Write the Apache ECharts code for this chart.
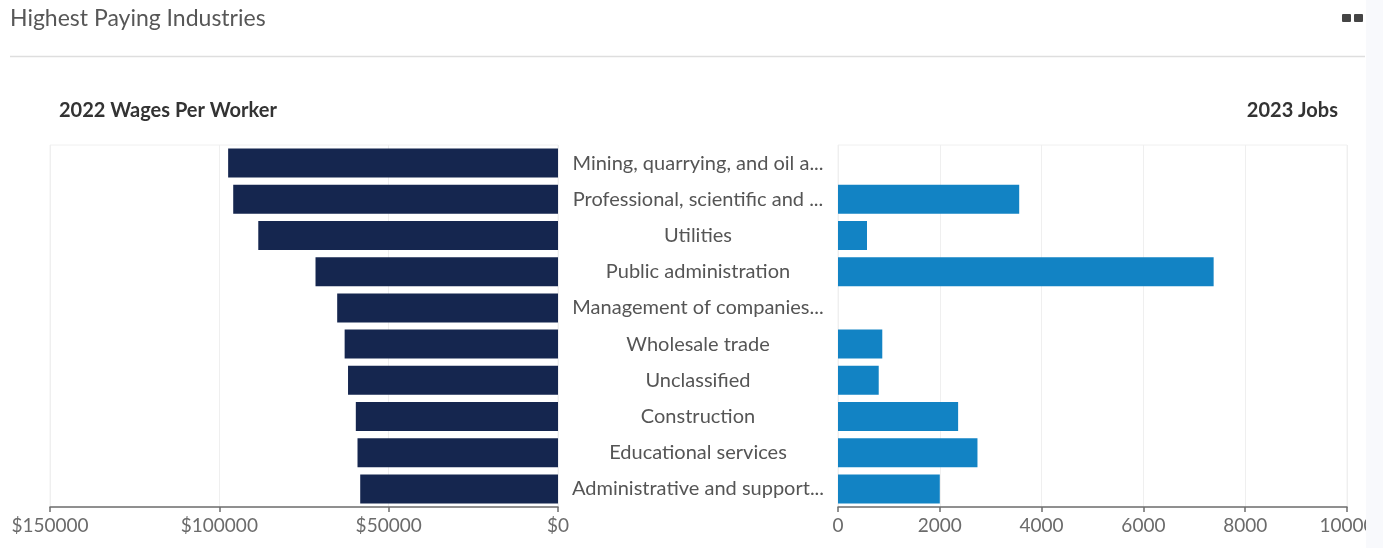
<!DOCTYPE html>
<html>
<head>
<meta charset="utf-8">
<script src="https://cdn.jsdelivr.net/npm/echarts@6/dist/echarts.min.js"></script>
<style>
  html, body { margin: 0; padding: 0; background: #ffffff; }
  #chart { width: 1383px; height: 548px; }
</style>
</head>
<body>
<div id="chart"></div>
<script>
// Industry labels as shown next to the bars
const industries = [
  'Mining, quarrying, and oil a...',
  'Professional, scientific and ...',
  'Utilities',
  'Public administration',
  'Management of companies...',
  'Wholesale trade',
  'Unclassified',
  'Construction',
  'Educational services',
  'Administrative and support...'
];

// 2022 average wages per worker (USD)
const wages2022 = [97400, 95900, 88500, 71600, 65200, 63000, 62000, 59700, 59200, 58400];

// 2023 job counts (no value for two industries)
const jobs2023 = [null, 3560, 570, 7380, null, 870, 800, 2360, 2740, 2000];

// Axis ranges and tick steps
const wageAxis = { min: 0, max: 150000, step: 50000 };
const jobsAxis = { min: 0, max: 10000, step: 2000 };

const FONT = 'Lato, "Open Sans", sans-serif';
const chart = echarts.init(document.getElementById('chart'), null, { renderer: 'canvas' });

const axisLineStyle = { show: true, lineStyle: { color: '#6e6e6e', width: 1.5 } };
const axisTickStyle = { show: true, length: 5, lineStyle: { color: '#6e6e6e', width: 1.5 } };
const axisLabelStyle = { color: '#6b6b6b', fontSize: 19, fontFamily: FONT, margin: 9 };

chart.setOption({
  animation: false,
  backgroundColor: '#ffffff',
  grid: [
    { left: 50, right: 825, top: 145, bottom: 41, show: true, borderColor: '#f0f0f0', borderWidth: 1, containLabel: false },
    { left: 838, right: 36, top: 145, bottom: 41, show: true, borderColor: '#f0f0f0', borderWidth: 1, containLabel: false }
  ],
  xAxis: [
    {
      gridIndex: 0, type: 'value', inverse: true,
      min: wageAxis.min, max: wageAxis.max, interval: wageAxis.step,
      axisLine: axisLineStyle, axisTick: axisTickStyle,
      axisLabel: Object.assign({}, axisLabelStyle, { formatter: v => '$' + v }),
      splitLine: { show: true, lineStyle: { color: '#efefef' } }
    },
    {
      gridIndex: 1, type: 'value',
      min: jobsAxis.min, max: jobsAxis.max, interval: jobsAxis.step,
      axisLine: axisLineStyle, axisTick: axisTickStyle,
      axisLabel: Object.assign({}, axisLabelStyle, { formatter: v => String(v) }),
      splitLine: { show: true, lineStyle: { color: '#efefef' } }
    }
  ],
  yAxis: [
    {
      gridIndex: 0, type: 'category', data: industries, inverse: true, position: 'right',
      axisLine: { show: false }, axisTick: { show: false },
      axisLabel: { color: '#555555', fontSize: 20, fontFamily: FONT, align: 'center', margin: 140, padding: [4, 0, 0, 0] }
    },
    {
      gridIndex: 1, type: 'category', data: industries, inverse: true,
      axisLine: { show: false }, axisTick: { show: false }, axisLabel: { show: false }
    }
  ],
  series: [
    {
      name: '2022 Wages Per Worker', type: 'bar', xAxisIndex: 0, yAxisIndex: 0,
      data: wages2022, barCategoryGap: '20%',
      itemStyle: { color: '#15264f' }
    },
    {
      name: '2023 Jobs', type: 'bar', xAxisIndex: 1, yAxisIndex: 1,
      data: jobs2023, barCategoryGap: '20%',
      itemStyle: { color: '#1283c4' }
    }
  ],
  graphic: [
    { type: 'text', left: 10, top: 7, style: { text: 'Highest Paying Industries', fill: '#575757', font: '23px ' + FONT } },
    { type: 'line', shape: { x1: 10, y1: 56.5, x2: 1365, y2: 56.5 }, style: { stroke: '#dedede', lineWidth: 1.5 } },
    { type: 'rect', shape: { x: 1342, y: 14, width: 9, height: 8, r: 1 }, style: { fill: '#454545' } },
    { type: 'rect', shape: { x: 1354, y: 14, width: 9, height: 8, r: 1 }, style: { fill: '#454545' } },
    { type: 'text', left: 59, top: 101, style: { text: '2022 Wages Per Worker', fill: '#333333', font: 'bold 20px ' + FONT } },
    { type: 'text', right: 45, top: 101, style: { text: '2023 Jobs', fill: '#333333', font: 'bold 20px ' + FONT } },
    { type: 'rect', z: 100, shape: { x: 1366, y: 0, width: 17, height: 548 }, style: { fill: '#f8f9fc' } }
  ]
});
</script>
</body>
</html>
